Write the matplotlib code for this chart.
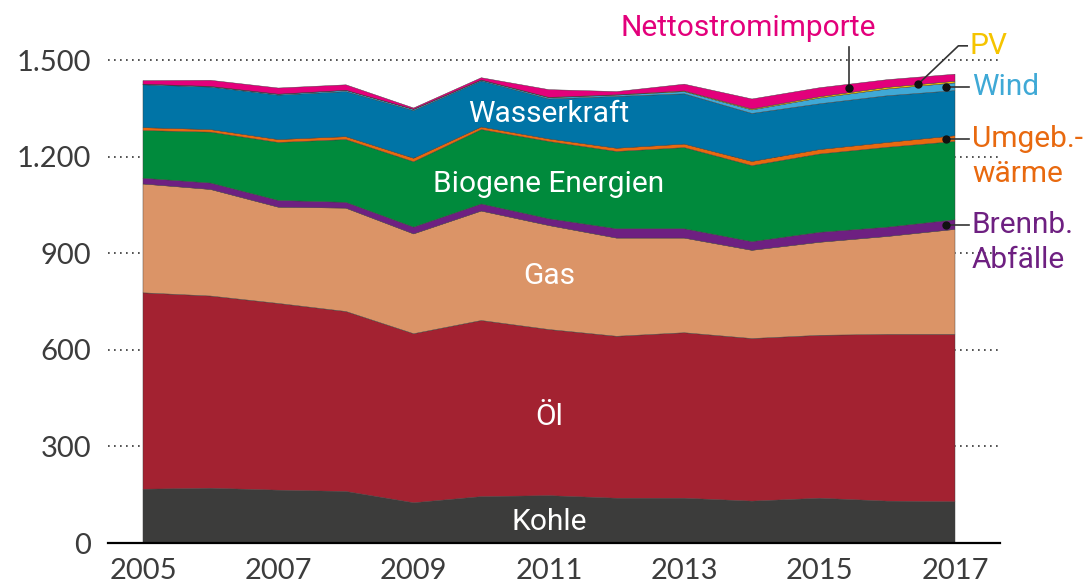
import numpy as np
import matplotlib
matplotlib.use("Agg")
import matplotlib.pyplot as plt
from matplotlib.ticker import FuncFormatter

# Bruttoinlandsverbrauch nach Energieträgern (PJ)
years = np.arange(2005, 2018)
kohle     = [167, 170, 164, 160, 125, 144, 147, 139, 139, 130, 139, 130, 128]
oel       = [610, 597, 580, 559, 525, 547, 516, 503, 514, 505, 506, 518, 520]
gas       = [338, 331, 299, 321, 310, 340, 323, 305, 294, 274, 289, 304, 326]
abfaelle  = [18, 20, 21, 18, 21, 22, 21, 29, 29, 27, 31, 29, 30]
biogen    = [148, 158, 180, 195, 203, 231, 240, 240, 252, 236, 243, 248, 243]
umgebung  = [9, 8, 9, 9, 11, 8, 8, 10, 11, 13, 14, 15, 18]
wasser    = [133, 132, 138, 140, 148, 143, 124, 161, 156, 149, 142, 145, 140]
wind      = [2, 2, 3, 4, 4, 3, 4, 4, 7, 11, 18, 21, 24]
pv        = [0, 0, 0, 0, 0, 0, 1, 1, 2, 3, 4, 5, 5]
importe   = [11, 19, 19, 17, 4, 7, 24, 10, 21, 31, 28, 24, 22]

series = [kohle, oel, gas, abfaelle, biogen, umgebung, wasser, wind, pv, importe]
colors = ["#3c3c3b", "#a32231", "#db9467", "#6e2081", "#008a3c",
          "#e8690f", "#0074a6", "#3fa9d6", "#f5c400", "#e3007b"]

yticks = [0, 300, 600, 900, 1200, 1500]
xticks = [2005, 2007, 2009, 2011, 2013, 2015, 2017]

txt = "#3c3c3c"
lab_font = "Roboto"
lab_size = 21.5

fig = plt.figure(figsize=(10.84, 5.86), dpi=100)
ax = fig.add_axes([108 / 1084, 1 - 543 / 586, 892 / 1084, 502.3 / 586])

ax.stackplot(years, *series, colors=colors, linewidth=0.3,
             edgecolors=colors, zorder=2)

ax.set_xlim(2004.483, 2017.665)
ax.set_ylim(0, 1560)
ax.set_yticks(yticks)
ax.set_xticks(xticks)
ax.yaxis.set_major_formatter(FuncFormatter(lambda v, p: f"{int(v):,}".replace(",", ".")))
ax.grid(axis="y", linestyle=(0, (1, 2.6)), color="#333333", linewidth=1.2, zorder=1)
ax.set_axisbelow(True)
for s in ["top", "right", "left"]:
    ax.spines[s].set_visible(False)
ax.spines["bottom"].set_linewidth(1.6)
ax.spines["bottom"].set_zorder(3)
ax.tick_params(length=0, labelsize=21, colors=txt)
ax.tick_params(axis="y", pad=12)
ax.tick_params(axis="x", pad=11)
for t in ax.get_xticklabels() + ax.get_yticklabels():
    t.set_fontfamily("Lato")

# labels inside the areas
inner = [("Wasserkraft", 1333), ("Biogene Energien", 1116), ("Gas", 828),
         ("Öl", 391), ("Kohle", 65)]
for name, yv in inner:
    ax.text(2011, yv, name, color="white", fontsize=lab_size, family=lab_font,
            ha="center", va="center", zorder=5)

# cumulative tops for leader dots
cum = np.cumsum(np.array(series), axis=0)
lead_x = 2016.87
xr = 2017.2
line_gap = 107  # second label line, in data units (~34 px)

def band_mid(i, x):
    lo = np.interp(x, years, cum[i - 1]) if i > 0 else 0
    hi = np.interp(x, years, cum[i])
    return (lo + hi) / 2

kw = dict(color="#333333", lw=1.2, zorder=6, clip_on=False)
dot = dict(color="#111111", ms=5, zorder=7, clip_on=False)

# Wind, Umgebungswärme, Abfälle: horizontal leaders
for idx, lines in [(7, ["Wind"]), (5, ["Umgeb.-", "wärme"]),
                   (3, ["Brennb.", "Abfälle"])]:
    ym = band_mid(idx, lead_x)
    ax.plot([lead_x, xr], [ym, ym], **kw)
    ax.plot(lead_x, ym, "o", **dot)
    for k, line in enumerate(lines):
        ax.text(xr + 0.05, ym - k * line_gap, line, color=colors[idx],
                fontsize=lab_size, family=lab_font, ha="left", va="center")

# PV
pv_x = 2016.45
pv_y = band_mid(8, pv_x) + 3
ax.plot([pv_x, 2017.05, 2017.18], [pv_y, 1544, 1544], **kw)
ax.plot(pv_x, pv_y, "o", **dot)
ax.text(2017.22, 1544, "PV", color=colors[8], fontsize=lab_size, family=lab_font,
        ha="left", va="center")

# Nettostromimporte
im_x = 2015.44
im_y = band_mid(9, im_x)
ax.plot([im_x, im_x], [im_y, 1540], **kw)
ax.plot(im_x, im_y, "o", **dot)
ax.text(2013.95, 1600, "Nettostromimporte", color=colors[9], fontsize=lab_size,
        family=lab_font, ha="center", va="center")

fig.savefig("out.png", dpi=100)
